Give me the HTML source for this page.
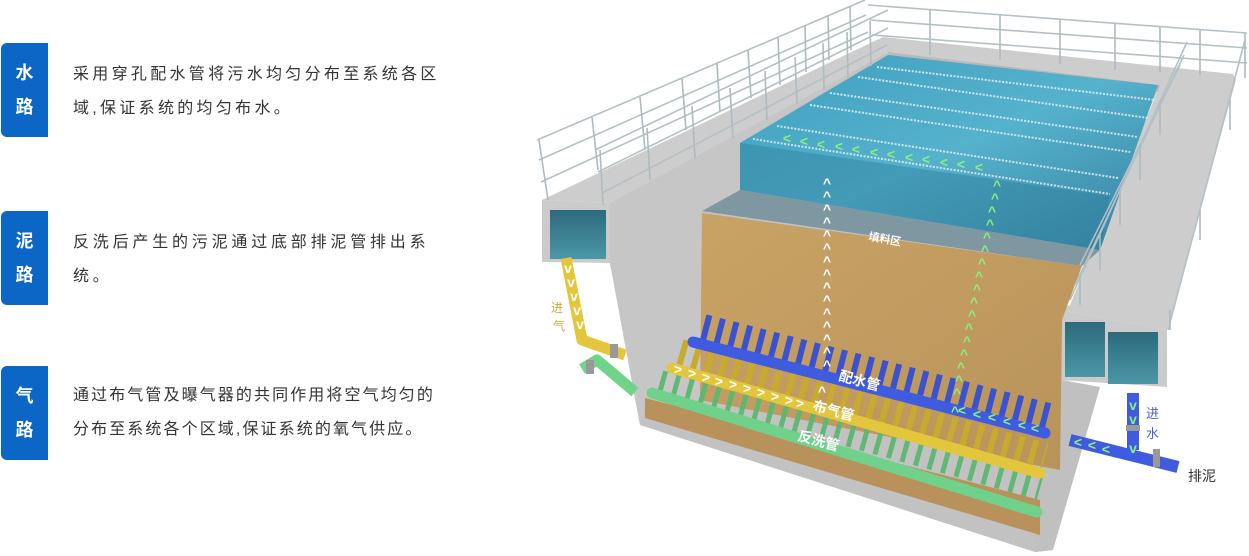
<!DOCTYPE html>
<html><head><meta charset="utf-8"><style>
html,body{margin:0;padding:0;background:#fff;}
body{width:1249px;height:556px;position:relative;overflow:hidden;font-family:"Liberation Sans","Noto Sans CJK SC",sans-serif;}
.tab{position:absolute;left:1px;width:47px;height:94px;background:#0b66c6;border-radius:6px 0 0 6px;color:#fff;font-weight:bold;font-size:18px;text-align:center;line-height:34px;padding-top:13px;box-sizing:border-box;}
.txt{position:absolute;left:73px;font-size:16px;color:#333;line-height:34px;white-space:nowrap;}
svg{position:absolute;left:0;top:0;}
</style></head><body>
<div class="tab" style="top:43px">水<br>路</div>
<div class="txt" style="top:58px;letter-spacing:3.3px">采用穿孔配水管将污水均匀分布至系统各区<br>域,保证系统的均匀布水。</div>
<div class="tab" style="top:211px">泥<br>路</div>
<div class="txt" style="top:226px;letter-spacing:3.8px">反洗后产生的污泥通过底部排泥管排出系<br>统。</div>
<div class="tab" style="top:366px">气<br>路</div>
<div class="txt" style="top:379px;letter-spacing:2.1px">通过布气管及曝气器的共同作用将空气均匀的<br>分布至系统各个区域,保证系统的氧气供应。</div>

<svg width="1249" height="556" viewBox="0 0 1249 556" font-family="Liberation Sans, Noto Sans CJK SC, sans-serif">
<defs>
<linearGradient id="wat" x1="0" y1="0" x2="1" y2="1">
<stop offset="0" stop-color="#3f9fbf"/><stop offset="0.5" stop-color="#55b2cd"/><stop offset="1" stop-color="#347f9e"/></linearGradient>
<linearGradient id="box" x1="0" y1="0" x2="0" y2="1">
<stop offset="0" stop-color="#2c6a7c"/><stop offset="1" stop-color="#4b97a8"/></linearGradient>
<linearGradient id="sand" x1="0" y1="0" x2="1" y2="1">
<stop offset="0" stop-color="#c9a265"/><stop offset="1" stop-color="#b8935a"/></linearGradient>
</defs>

<polygon points="610,203 888,52 1160,85 1062,307 1062,380 1053,550 1035,552 640,425 610,263" fill="#c2c2c2"/>
<polygon points="542,200 883,37 1233,74 1236,80 1167,330 1060,310 1070,305 1160,85 888,52 610,203" fill="#cdcdcd"/>
<polygon points="888,52 1160,85 1158,92 892,60" fill="#b9b9b9"/>
<polygon points="610,203 888,52 740,143 740,193 702,213 700,400 645,405 640,425 610,263" fill="#c6c6c6"/>
<polygon points="542,200 610,203 610,263 542,262" fill="#cbcbcb"/>
<rect x="550" y="210" width="56" height="49" fill="url(#box)"/>
<polygon points="1060,310 1167,330 1167,387 1060,380" fill="#cbcbcb"/>
<rect x="1065" y="322" width="40" height="55" fill="url(#box)"/>
<rect x="1108" y="332" width="50" height="52" fill="url(#box)"/>
<polygon points="1040,300 1062,310 1062,380 1100,387 1053,550 1035,552 1037,330" fill="#c0c0c0"/>

<polygon points="740,143 888,55 1158,85 1100,250 740,190" fill="url(#wat)"/>
<g stroke="#e6eef0" stroke-width="2" stroke-dasharray="2 1.5" opacity="0.85">
<line x1="753" y1="139" x2="1110" y2="194"/>
<line x1="777" y1="126" x2="1118" y2="178"/>
<line x1="810" y1="105" x2="1130" y2="152"/>
<line x1="830" y1="93" x2="1138" y2="137"/>
<line x1="858" y1="77" x2="1148" y2="118"/>
<line x1="877" y1="67" x2="1155" y2="100"/>
</g>
<polygon points="740,143 1110,196 1100,250 740,190" fill="#2f7f9c" opacity="0.45"/>
<polygon points="702,211 740,190 1100,250 1082,266" fill="#7f97a0"/>
<polygon points="702,213 1082,266 1062,320 1060,470 700,400" fill="url(#sand)"/>
<polygon points="645,398 1040,500 1040,535 645,418" fill="#b8925a"/>

<line x1="660" y1="382" x2="1040" y2="488" stroke="#5bb870" stroke-width="24" stroke-dasharray="5 9" opacity="0.95"/>
<line x1="652" y1="393" x2="1037" y2="512" stroke="#6fd18a" stroke-width="11" stroke-linecap="round"/>
<line x1="680" y1="352" x2="1045" y2="456" stroke="#c7aa2e" stroke-width="26" stroke-dasharray="6 8"/>
<line x1="672" y1="368" x2="1040" y2="473" stroke="#e4c63d" stroke-width="11" stroke-linecap="round"/>
<line x1="703" y1="328" x2="1052" y2="418" stroke="#3a52d0" stroke-width="28" stroke-dasharray="6 8"/>
<line x1="693" y1="342" x2="1045" y2="433" stroke="#3f5be0" stroke-width="11" stroke-linecap="round"/>

<polyline points="566,258 582,340 625,355" fill="none" stroke="#e4c63d" stroke-width="11" stroke-linejoin="round"/>
<polyline points="582,369 597,360 635,392" fill="none" stroke="#72d38b" stroke-width="11" stroke-linejoin="round"/>
<rect x="610" y="344" width="8" height="14" fill="#999"/>
<rect x="586" y="360" width="8" height="14" fill="#999"/>
<line x1="1133" y1="393" x2="1133" y2="450" stroke="#3f5be0" stroke-width="12"/>
<line x1="1070" y1="440" x2="1178" y2="467" stroke="#3f5be0" stroke-width="12"/>
<rect x="1153" y="449" width="7" height="18" fill="#999"/>
<rect x="1126" y="425" width="14" height="6" fill="#999"/>

<g stroke="#b4c0c5" stroke-width="1.6" fill="none">
<line x1="537" y1="140" x2="865" y2="0"/>
<line x1="539" y1="160" x2="866" y2="15"/>
<line x1="541" y1="182" x2="868" y2="32"/>
<line x1="595" y1="150" x2="888" y2="10"/>
<line x1="598" y1="172" x2="888" y2="28"/>
<line x1="602" y1="193" x2="887" y2="45"/>
<line x1="868" y1="5" x2="1247" y2="33"/>
<line x1="870" y1="20" x2="1247" y2="48"/>
<line x1="872" y1="35" x2="1247" y2="63"/>
<line x1="1187" y1="42" x2="1070" y2="300"/>
<line x1="1184" y1="55" x2="1075" y2="285"/>
<line x1="1180" y1="65" x2="1080" y2="265"/>
<line x1="1245" y1="40" x2="1168" y2="330"/>
</g>
<g stroke="#aebbc0" stroke-width="1.6">
<line x1="539" y1="140" x2="548" y2="200"/><line x1="592" y1="117" x2="598" y2="170"/><line x1="640" y1="97" x2="645" y2="150"/><line x1="682" y1="79" x2="686" y2="130"/><line x1="717" y1="64" x2="720" y2="112"/><line x1="748" y1="50" x2="751" y2="98"/><line x1="778" y1="37" x2="780" y2="85"/><line x1="805" y1="25" x2="806" y2="72"/><line x1="828" y1="15" x2="829" y2="60"/><line x1="850" y1="6" x2="851" y2="50"/>
<line x1="600" y1="150" x2="603" y2="205"/><line x1="647" y1="128" x2="650" y2="180"/><line x1="692" y1="106" x2="695" y2="158"/><line x1="730" y1="88" x2="733" y2="138"/><line x1="765" y1="71" x2="767" y2="120"/><line x1="795" y1="57" x2="797" y2="104"/><line x1="823" y1="43" x2="824" y2="90"/><line x1="847" y1="32" x2="848" y2="78"/><line x1="870" y1="21" x2="871" y2="66"/>
<line x1="930" y1="9" x2="930" y2="55"/><line x1="1000" y1="15" x2="1000" y2="60"/><line x1="1060" y1="19" x2="1060" y2="64"/><line x1="1115" y1="24" x2="1115" y2="70"/><line x1="1160" y1="27" x2="1160" y2="72"/><line x1="1200" y1="30" x2="1200" y2="75"/><line x1="1245" y1="33" x2="1245" y2="78"/>
<line x1="1160" y1="100" x2="1160" y2="135"/><line x1="1140" y1="145" x2="1140" y2="180"/><line x1="1120" y1="190" x2="1120" y2="225"/><line x1="1100" y1="235" x2="1100" y2="270"/><line x1="1080" y1="275" x2="1080" y2="305"/>
<line x1="1230" y1="100" x2="1230" y2="130"/><line x1="1200" y1="210" x2="1200" y2="240"/><line x1="1170" y1="310" x2="1170" y2="330"/>
</g>

<g font-size="14" font-weight="bold" fill="#fff" text-anchor="middle">
<text x="827" y="188">^</text><text x="827" y="201">^</text><text x="827" y="214">^</text><text x="827" y="227">^</text><text x="827" y="240">^</text><text x="827" y="253">^</text><text x="827" y="266">^</text><text x="827" y="279">^</text><text x="827" y="292">^</text><text x="827" y="305">^</text><text x="827" y="318">^</text><text x="827" y="331">^</text><text x="827" y="344">^</text><text x="827" y="357">^</text><text x="827" y="370">^</text><text x="822" y="396">^</text>
</g>
<g font-size="14" font-weight="bold" fill="#8bf07a" text-anchor="middle">
<text x="997" y="190">^</text><text x="995" y="203">^</text><text x="992" y="216">^</text><text x="990" y="229">^</text><text x="987" y="242">^</text><text x="985" y="255">^</text><text x="982" y="268">^</text><text x="979" y="281">^</text><text x="977" y="294">^</text><text x="974" y="307">^</text><text x="972" y="320">^</text><text x="969" y="333">^</text><text x="967" y="346">^</text><text x="964" y="359">^</text><text x="961" y="372">^</text><text x="959" y="385">^</text><text x="957" y="398">^</text><text x="955" y="416">^</text>
<text x="787" y="143">&lt;</text><text x="804" y="146">&lt;</text><text x="821" y="149">&lt;</text><text x="839" y="151">&lt;</text><text x="856" y="154">&lt;</text><text x="874" y="157">&lt;</text><text x="891" y="159">&lt;</text><text x="909" y="162">&lt;</text><text x="926" y="164">&lt;</text><text x="944" y="167">&lt;</text><text x="961" y="169">&lt;</text><text x="979" y="172">&lt;</text>
<text x="962" y="415">&lt;</text><text x="977" y="419">&lt;</text><text x="992" y="422">&lt;</text><text x="1007" y="426">&lt;</text><text x="1022" y="430">&lt;</text><text x="1035" y="433">&lt;</text>
<text x="1078" y="447">&lt;</text><text x="1092" y="450">&lt;</text><text x="1106" y="454">&lt;</text>
<text x="1133" y="410">v</text><text x="1133" y="424">v</text><text x="1133" y="453">v</text>
</g>
<g font-size="14" font-weight="bold" fill="#fff" text-anchor="middle">
<text x="678" y="374">&gt;</text><text x="692" y="378">&gt;</text><text x="706" y="382">&gt;</text><text x="719" y="386">&gt;</text><text x="733" y="389">&gt;</text><text x="747" y="393">&gt;</text><text x="761" y="397">&gt;</text><text x="775" y="401">&gt;</text><text x="789" y="405">&gt;</text><text x="800" y="408">&gt;</text>
<text x="568" y="273">v</text><text x="571" y="287">v</text><text x="574" y="301">v</text><text x="577" y="315">v</text><text x="580" y="329">v</text>
</g>

<g fill="#fff" font-weight="bold">
<text x="868" y="240" font-size="11" transform="rotate(10 868 240)">填料区</text>
<text x="838" y="380" font-size="14" transform="rotate(15 838 380)">配水管</text>
<text x="812" y="410" font-size="14" transform="rotate(15 812 410)">布气管</text>
<text x="797" y="440" font-size="14" transform="rotate(15 797 440)">反洗管</text>
</g>
<text x="551" y="312" font-size="12" fill="#c9a93a">进</text>
<text x="553" y="330" font-size="12" fill="#c9a93a">气</text>
<text x="1146" y="418" font-size="13" fill="#4a5fd6">进</text>
<text x="1146" y="438" font-size="13" fill="#4a5fd6">水</text>
<text x="1188" y="481" font-size="14" fill="#333">排泥</text>
</svg>
</body></html>
